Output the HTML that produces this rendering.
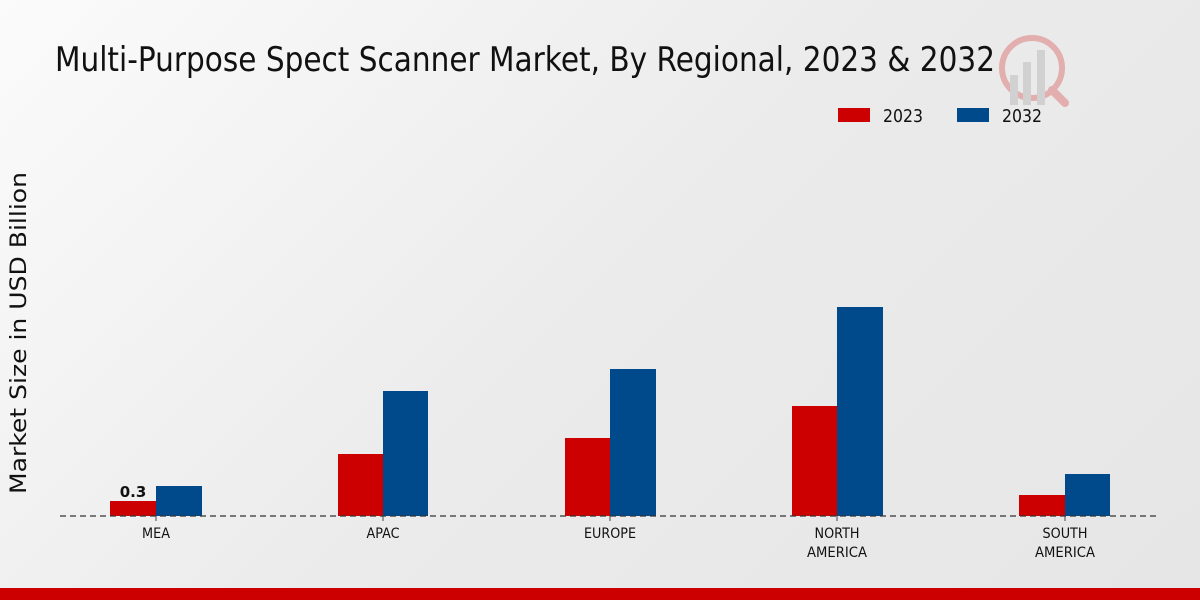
<!DOCTYPE html>
<html><head><meta charset="utf-8"><style>
html,body{margin:0;padding:0;width:1200px;height:600px;overflow:hidden}
body{background:linear-gradient(135deg,#fbfbfb 0%,#ebebeb 50%,#e6e6e6 100%);font-family:"DejaVu Sans","Liberation Sans",sans-serif}
</style></head><body>
<svg width="1200" height="600" xmlns="http://www.w3.org/2000/svg" style="position:absolute;left:0;top:0">
<g opacity="0.25">
<circle cx="1032" cy="68" r="30" fill="none" stroke="#c00" stroke-width="6"/>
<line x1="1052" y1="90" x2="1065" y2="103" stroke="#c00" stroke-width="8" stroke-linecap="round"/>
<rect x="1010" y="75" width="8" height="30" fill="#888"/>
<rect x="1023" y="62" width="8" height="43" fill="#888"/>
<rect x="1037" y="50" width="8" height="55" fill="#888"/>
</g>
<text x="55" y="71" font-size="34" textLength="940" lengthAdjust="spacingAndGlyphs" fill="#111">Multi-Purpose Spect Scanner Market, By Regional, 2023 &amp; 2032</text>
<rect x="838" y="108" width="32" height="14" fill="#cc0000"/>
<text x="883" y="122" font-size="18" textLength="40" lengthAdjust="spacingAndGlyphs" fill="#111">2023</text>
<rect x="957" y="108" width="32" height="14" fill="#004a8c"/>
<text x="1002" y="122" font-size="18" textLength="40" lengthAdjust="spacingAndGlyphs" fill="#111">2032</text>
<text transform="translate(26,333) rotate(-90)" text-anchor="middle" font-size="22" textLength="322" lengthAdjust="spacingAndGlyphs" fill="#111">Market Size in USD Billion</text>
<g>
<rect x="110" y="501" width="46" height="15" fill="#cc0000"/>
<rect x="156" y="486" width="46" height="30" fill="#004a8c"/>
<rect x="338" y="454" width="45" height="62" fill="#cc0000"/>
<rect x="383" y="391" width="45" height="125" fill="#004a8c"/>
<rect x="565" y="438" width="45" height="78" fill="#cc0000"/>
<rect x="610" y="369" width="46" height="147" fill="#004a8c"/>
<rect x="792" y="406" width="45" height="110" fill="#cc0000"/>
<rect x="837" y="307" width="46" height="209" fill="#004a8c"/>
<rect x="1019" y="495" width="46" height="21" fill="#cc0000"/>
<rect x="1065" y="474" width="45" height="42" fill="#004a8c"/>
</g>
<line x1="60" y1="516" x2="1160" y2="516" stroke="#333" stroke-width="1.3" stroke-dasharray="6,4"/>
<g stroke="#444" stroke-width="1">
<line x1="156" y1="516" x2="156" y2="521"/><line x1="383" y1="516" x2="383" y2="521"/>
<line x1="610" y1="516" x2="610" y2="521"/><line x1="837" y1="516" x2="837" y2="521"/>
<line x1="1065" y1="516" x2="1065" y2="521"/>
</g>
<text x="133" y="497" text-anchor="middle" font-size="15" font-weight="bold" fill="#111">0.3</text>
<g font-size="14" fill="#111" text-anchor="middle" lengthAdjust="spacingAndGlyphs">
<text x="156" y="538" textLength="28" lengthAdjust="spacingAndGlyphs">MEA</text>
<text x="383" y="538" textLength="33" lengthAdjust="spacingAndGlyphs">APAC</text>
<text x="610" y="538" textLength="52" lengthAdjust="spacingAndGlyphs">EUROPE</text>
<text x="837" y="538" textLength="45" lengthAdjust="spacingAndGlyphs">NORTH</text><text x="837" y="557" textLength="60" lengthAdjust="spacingAndGlyphs">AMERICA</text>
<text x="1065" y="538" textLength="45" lengthAdjust="spacingAndGlyphs">SOUTH</text><text x="1065" y="557" textLength="60" lengthAdjust="spacingAndGlyphs">AMERICA</text>
</g>
<rect x="0" y="588" width="1200" height="12" fill="#cc0000"/>
</svg>
</body></html>
